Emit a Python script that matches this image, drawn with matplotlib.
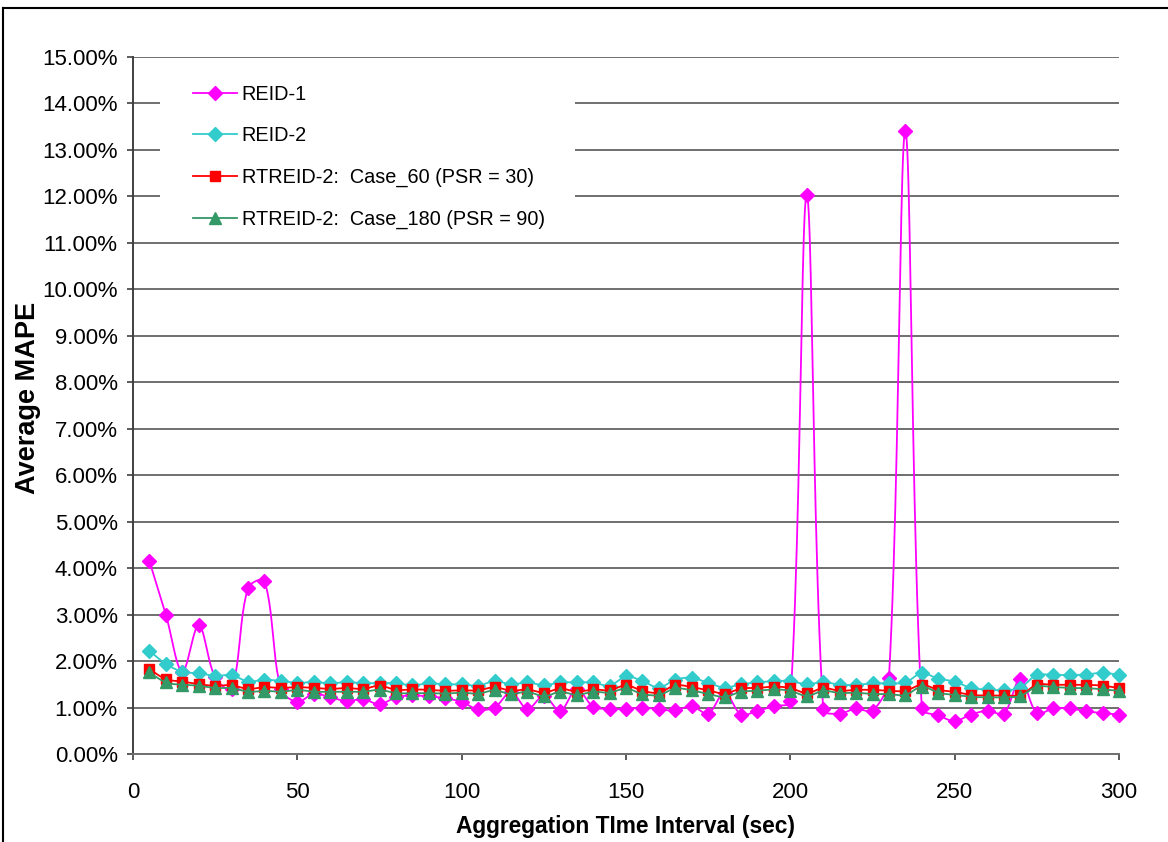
import numpy as np
import matplotlib
matplotlib.use("Agg")
import matplotlib.pyplot as plt
from matplotlib.ticker import FuncFormatter, MultipleLocator
from matplotlib.lines import Line2D
from matplotlib.patches import Rectangle

plt.rcParams['font.family'] = ['Liberation Sans', 'DejaVu Sans']

# Aggregation time interval (sec)
interval = list(range(5, 301, 5))

# Average MAPE (%) per method
reid_1 = [4.15, 3.00, 1.77, 2.77, 1.65, 1.40, 3.57, 3.72, 1.40, 1.12,
          1.30, 1.22, 1.14, 1.18, 1.07, 1.22, 1.26, 1.24, 1.20, 1.12,
          0.96, 1.00, 1.33, 0.97, 1.25, 0.93, 1.40, 1.02, 0.97, 0.97,
          1.00, 0.96, 0.94, 1.03, 0.87, 1.32, 0.85, 0.93, 1.03, 1.13,
          12.03, 0.96, 0.87, 0.98, 0.93, 1.63, 13.40, 0.98, 0.83, 0.71,
          0.85, 0.93, 0.87, 1.62, 0.88, 0.98, 0.98, 0.92, 0.88, 0.85]

reid_2 = [2.22, 1.94, 1.77, 1.74, 1.68, 1.70, 1.56, 1.60, 1.57, 1.53,
          1.55, 1.52, 1.55, 1.52, 1.53, 1.52, 1.48, 1.52, 1.50, 1.50,
          1.47, 1.57, 1.50, 1.54, 1.48, 1.54, 1.54, 1.54, 1.47, 1.67,
          1.57, 1.43, 1.60, 1.64, 1.53, 1.43, 1.50, 1.54, 1.57, 1.57,
          1.50, 1.55, 1.49, 1.49, 1.52, 1.52, 1.54, 1.74, 1.62, 1.56,
          1.42, 1.39, 1.37, 1.43, 1.70, 1.70, 1.70, 1.71, 1.75, 1.70]

rtreid_60 = [1.83, 1.61, 1.56, 1.50, 1.47, 1.48, 1.40, 1.44, 1.42, 1.44,
             1.42, 1.40, 1.42, 1.40, 1.47, 1.38, 1.39, 1.38, 1.36, 1.37,
             1.37, 1.44, 1.36, 1.39, 1.32, 1.41, 1.34, 1.39, 1.37, 1.48,
             1.36, 1.32, 1.48, 1.44, 1.37, 1.30, 1.41, 1.42, 1.45, 1.42,
             1.31, 1.42, 1.36, 1.38, 1.38, 1.36, 1.36, 1.49, 1.38, 1.34,
             1.27, 1.26, 1.26, 1.27, 1.49, 1.49, 1.49, 1.49, 1.47, 1.42]

rtreid_180 = [1.76, 1.54, 1.49, 1.47, 1.42, 1.42, 1.34, 1.36, 1.34, 1.38,
              1.34, 1.34, 1.34, 1.34, 1.38, 1.31, 1.31, 1.31, 1.30, 1.32,
              1.30, 1.37, 1.29, 1.34, 1.24, 1.34, 1.27, 1.34, 1.32, 1.41,
              1.29, 1.27, 1.41, 1.37, 1.29, 1.23, 1.34, 1.36, 1.39, 1.36,
              1.25, 1.36, 1.31, 1.32, 1.29, 1.29, 1.27, 1.45, 1.32, 1.27,
              1.23, 1.22, 1.22, 1.25, 1.45, 1.44, 1.42, 1.42, 1.39, 1.36]

series_labels = ["REID-1", "REID-2",
                 "RTREID-2:  Case_60 (PSR = 30)",
                 "RTREID-2:  Case_180 (PSR = 90)"]

W, H, DPI = 1168, 842, 100
fig = plt.figure(figsize=(W / DPI, H / DPI), dpi=DPI)
fig.patch.set_facecolor("white")

# chart frame (top and left edges of the outer border)
fig.add_artist(Line2D([3 / W, 3 / W], [0, 1 - 8 / H], transform=fig.transFigure,
                      color="black", lw=1.5))
fig.add_artist(Line2D([3 / W, 1], [1 - 8 / H, 1 - 8 / H], transform=fig.transFigure,
                      color="black", lw=1.5))

left, right, top, bottom = 133, 1119, 57, 754
aw, ah = right - left, bottom - top
ax = fig.add_axes([left / W, 1 - bottom / H, aw / W, ah / H])
ax.set_xlim(0, 300)
ax.set_ylim(0, 15)


def smooth_curve(x, y, tension=1 / 3, steps=24):
    """Bezier smoothing done in screen space, control arms scaled by chord length."""
    P = ax.transData.transform(np.column_stack([x, y]))
    n = len(P)
    seg = np.linalg.norm(np.diff(P, axis=0), axis=1)
    t = np.linspace(0, 1, steps)[:, None]
    out = [P[:1]]
    for i in range(n - 1):
        p0, p1 = P[i], P[i + 1]
        if i == 0:
            c0 = p0 + (p1 - p0) * tension * 0.5
        else:
            c0 = p0 + (P[i + 1] - P[i - 1]) * seg[i] / (seg[i - 1] + seg[i]) * tension
        if i + 1 == n - 1:
            c1 = p1 - (p1 - p0) * tension * 0.5
        else:
            c1 = p1 - (P[i + 2] - P[i]) * seg[i] / (seg[i] + seg[i + 1]) * tension
        b = ((1 - t) ** 3) * p0 + 3 * ((1 - t) ** 2) * t * c0 + 3 * (1 - t) * t ** 2 * c1 + t ** 3 * p1
        out.append(b[1:])
    pts = np.vstack(out)
    d = ax.transData.inverted().transform(pts)
    return d[:, 0], d[:, 1]


styles = [
    (reid_1, "#FF00FF", "D", 7.2),
    (reid_2, "#33CCCC", "D", 7.2),
    (rtreid_60, "#FF0000", "s", 7.0),
    (rtreid_180, "#339966", "^", 8.2),
]

handles = []
for k, (vals, col, mk, ms) in enumerate(styles):
    sx, sy = smooth_curve(interval, vals)
    ax.plot(sx, sy, color=col, lw=1.3, zorder=3 + k, clip_on=False)
    ax.plot(interval, vals, linestyle="none", marker=mk, ms=ms, color=col,
            markeredgecolor=col, zorder=3 + k, clip_on=False)
    handles.append(Line2D([], [], color=col, lw=1.3, marker=mk, ms=ms,
                          markeredgecolor=col))

ax.yaxis.set_major_locator(MultipleLocator(1))
ax.xaxis.set_major_locator(MultipleLocator(50))
ax.yaxis.set_major_formatter(FuncFormatter(lambda v, p: f"{v:.2f}%"))
ax.grid(axis="y", color="#6f6f6f", lw=1.4)
ax.set_axisbelow(True)

for s in ("top", "right"):
    ax.spines[s].set_visible(False)
ax.spines["left"].set_color("#404040")
ax.spines["bottom"].set_color("#707070")
ax.spines["left"].set_linewidth(1.4)
ax.spines["bottom"].set_linewidth(1.4)

ax.tick_params(axis="both", direction="out", length=4, width=1.2, color="#404040",
               labelsize=16)
ax.tick_params(axis="x", pad=16)
ax.tick_params(axis="y", pad=7)

ax.set_xlabel("Aggregation TIme Interval (sec)", fontsize=16.4, fontweight="bold")
ax.set_ylabel("Average MAPE", fontsize=19.5, fontweight="bold")
ax.xaxis.set_label_coords(0.5, -(826 - bottom) / ah, transform=ax.transAxes)
ax.xaxis.label.set_va("center")
ax.yaxis.set_label_coords(-(left - 28) / aw, 1 - (398 - top) / ah, transform=ax.transAxes)
ax.yaxis.label.set_va("center")

# white panel behind the legend hides the gridlines there
ax.add_patch(Rectangle((27 / aw, 0.743), (442 - 27) / aw, 0.993 - 0.743,
                       transform=ax.transAxes, facecolor="white", edgecolor="none",
                       zorder=2))
ax.legend(handles, series_labels, loc="upper left",
          bbox_to_anchor=((193 - left) / aw, 1 - (85 - top) / ah),
          frameon=False, fontsize=14.3, handlelength=2.2, handletextpad=0.25,
          labelspacing=1.13, borderpad=0, borderaxespad=0)

fig.savefig("out.png", dpi=DPI)
